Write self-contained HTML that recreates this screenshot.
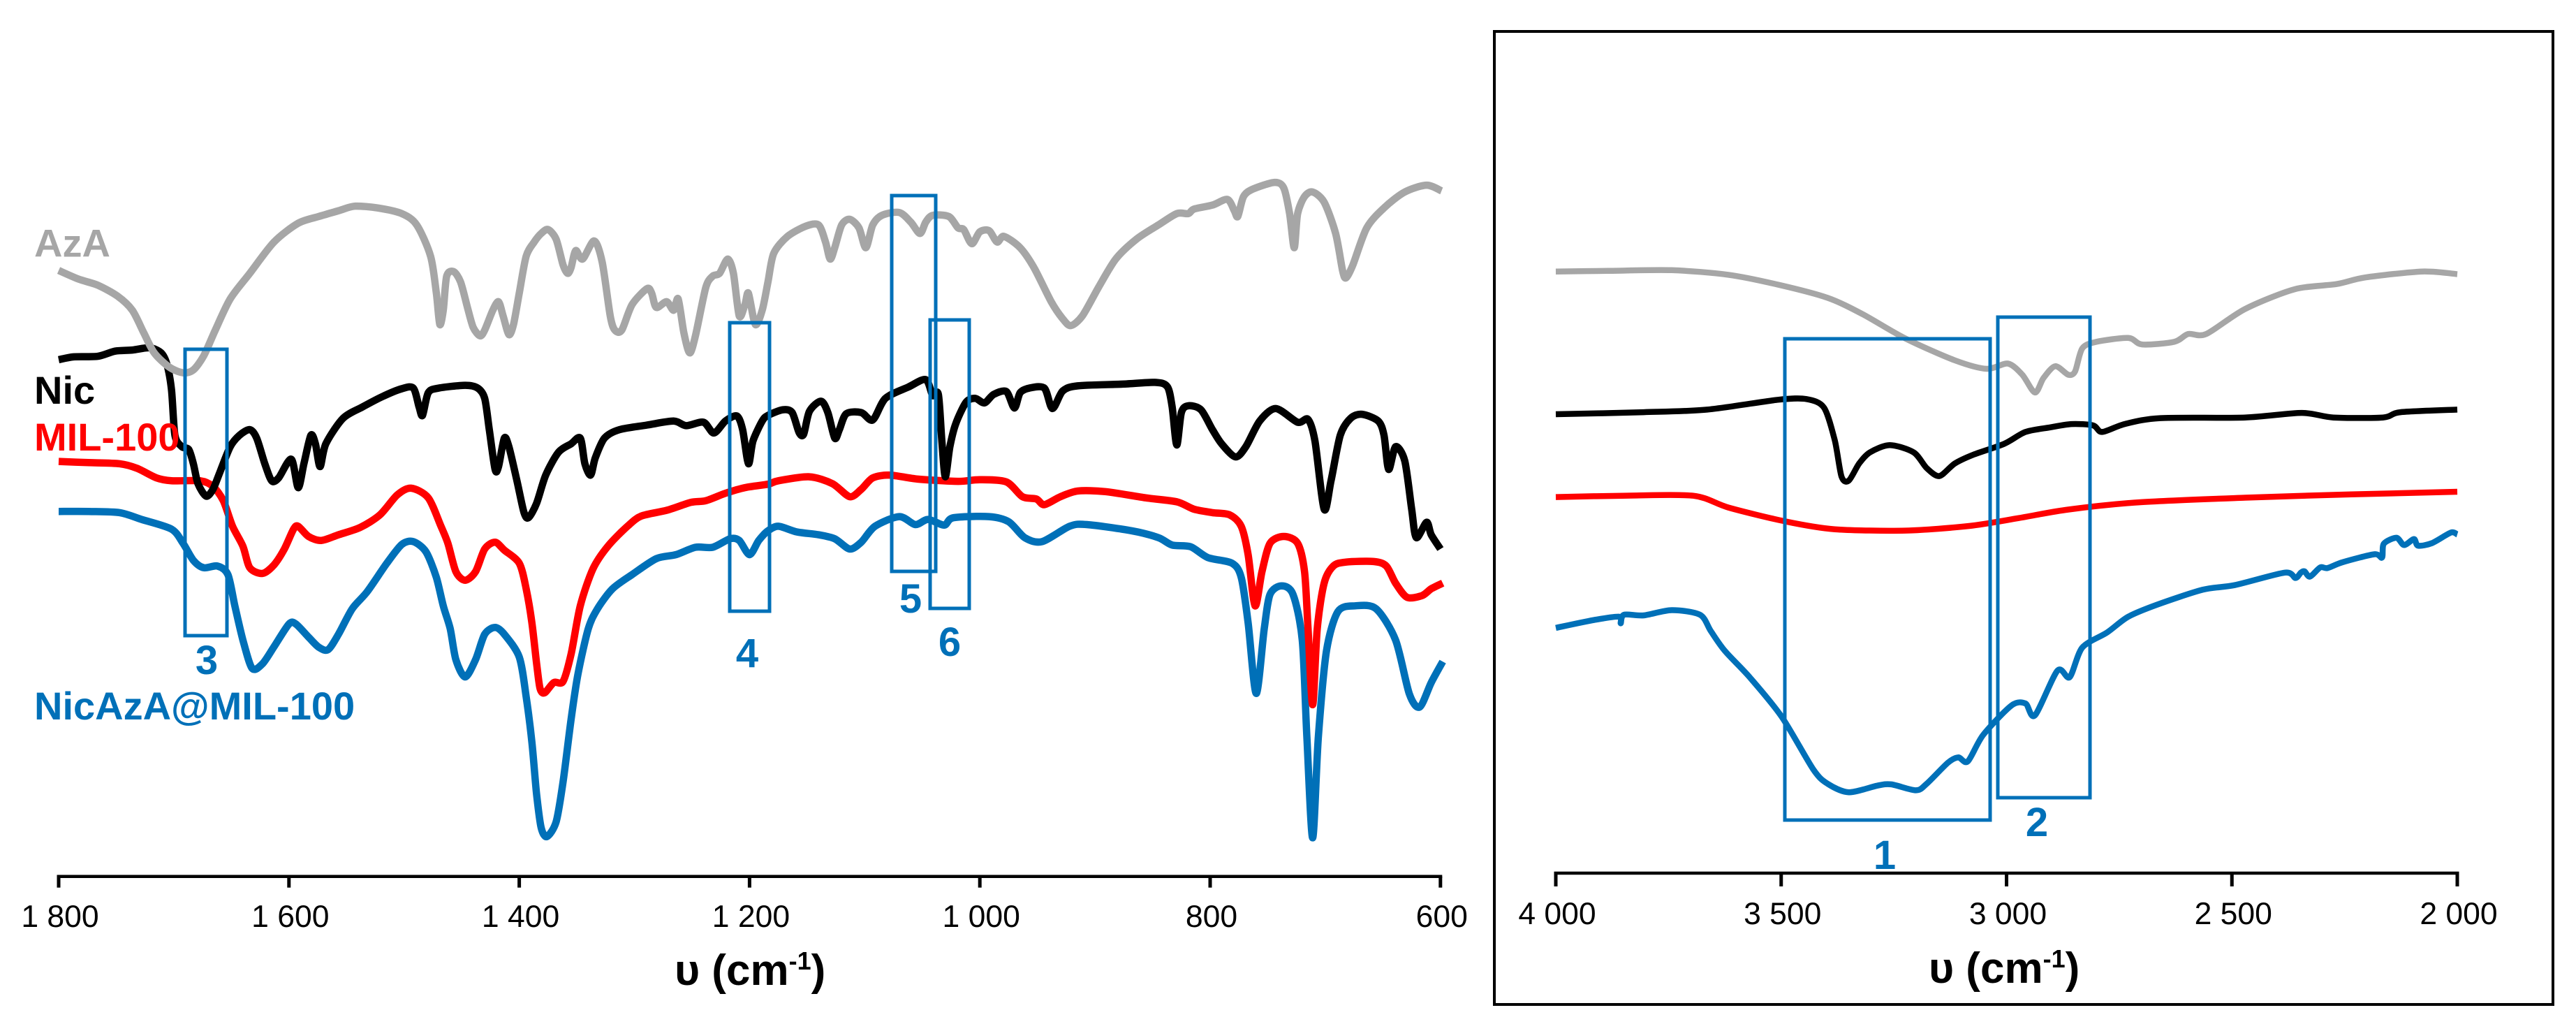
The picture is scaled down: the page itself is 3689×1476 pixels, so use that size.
<!DOCTYPE html>
<html lang="en">
<head>
<meta charset="utf-8">
<title>FTIR spectra of AzA, Nic, MIL-100 and NicAzA@MIL-100</title>
<style>
html,body{margin:0;padding:0;background:#fff;}
svg{display:block;}
text{font-family:"Liberation Sans",sans-serif;}
.tick{font-size:44.5px;fill:#000;text-anchor:middle;}
.title{font-size:62px;font-weight:bold;fill:#000;}
.lab{font-size:56px;font-weight:bold;}
.num{font-size:58px;font-weight:bold;fill:#0070b8;text-anchor:middle;}
.box{fill:none;stroke:#0070b8;stroke-width:5px;}
</style>
</head>
<body>
<svg id="figure" xmlns="http://www.w3.org/2000/svg" width="3689" height="1476" viewBox="0 0 3689 1476">
  <rect x="0" y="0" width="3689" height="1476" fill="#fff"/>
  <rect x="2140" y="45" width="1516" height="1393" fill="none" stroke="#000" stroke-width="4"/>
  <g id="left-marks"></g>
  <g id="right-marks"></g>
  <g id="left-axis"></g>
  <g id="right-axis"></g>

  <text class="lab" x="49" y="367.5" fill="#a6a6a6">AzA</text>
  <text class="lab" x="49" y="578" fill="#000">Nic</text>
  <text class="lab" x="49" y="645" fill="#ff0000">MIL-100</text>
  <text class="lab" x="49" y="1030" fill="#0070b8">NicAzA@MIL-100</text>

  <rect class="box" x="265" y="500" width="60" height="410"/>
  <rect class="box" x="1045" y="462" width="57" height="413"/>
  <rect class="box" x="1277" y="280" width="63" height="538"/>
  <rect class="box" x="1332" y="458" width="56" height="413"/>
  <rect class="box" x="2556" y="485" width="294" height="689"/>
  <rect class="box" x="2861" y="454" width="132" height="688"/>

  <text class="num" x="296" y="965">3</text>
  <text class="num" x="1070" y="955">4</text>
  <text class="num" x="1304" y="877">5</text>
  <text class="num" x="1360" y="939">6</text>
  <text class="num" x="2699" y="1244">1</text>
  <text class="num" x="2917" y="1197">2</text>

  <text class="title" x="966" y="1410">υ (cm<tspan font-size="36" dy="-22">-1</tspan><tspan dy="22">)</tspan></text>
  <text class="title" x="2762" y="1407">υ (cm<tspan font-size="36" dy="-22">-1</tspan><tspan dy="22">)</tspan></text>
</svg>
<script>
// ---------- Left panel: 1800–600 cm-1 (wavenumber, transmittance in arbitrary units) ----------
const leftTicks = [1800, 1600, 1400, 1200, 1000, 800, 600];
const leftTickLabels = ["1 800", "1 600", "1 400", "1 200", "1 000", "800", "600"];

const azaLeftW = [1800,1783,1766,1749,1736,1726,1717,1704,1692,1683,1674,1664,1651,1634,1613,1592,1574,1557,1543,1523,1502,1489,1477,1472,1469,1466,1463,1457,1451,1445,1440,1434,1430,1423,1418,1414,1409,1405,1400,1394,1387,1381,1375,1368,1362,1358,1355,1351,1345,1335,1328,1321,1317,1311,1302,1289,1285,1281,1272,1266,1262,1257,1252,1247,1238,1232,1226,1219,1214,1209,1204,1201,1195,1189,1184,1179,1167,1151,1140,1134,1130,1126,1120,1113,1105,1099,1093,1085,1070,1060,1052,1047,1041,1027,1019,1014,1007,1000,992,985,979,965,953,938,928,921,911,897,882,864,845,829,819,814,798,785,779,776,771,763,744,736,731,727,724,718,711,701,691,685,682,676,664,649,631,612,599];
const azaLeftT = [106.6,105.1,104,102.1,99.6,95.6,92.1,89.6,88.6,89.1,91.6,96.1,101.6,106.1,111.6,114.9,116.1,117.1,117.9,117.6,116.6,114.6,109.1,102.6,97.1,99.6,105.6,106.4,104.6,100.1,96.6,95.1,96.1,99.6,101.1,98.6,95.3,97.1,102.6,109.1,111.6,113.1,113.8,112.1,107.6,106.1,107.1,110.1,108.6,111.8,108.1,98.6,96.1,96.1,100.6,103.4,102.6,100.1,101.1,99.6,101.6,95.6,92.1,95.1,103.6,105.6,106.1,108.6,106.1,98.6,100.6,102.6,97.1,99.6,104.6,109.6,112.6,114.4,114.6,111.6,108.6,110.6,114.6,115.6,114.1,110.6,114.6,116.3,116.8,115.1,113.1,115.1,116.3,116.1,114.1,113.8,111.3,113.4,113.6,111.6,112.6,110.6,107.1,101.1,98.1,96.9,98.6,103.6,108.6,112.1,114.6,116.6,116.6,117.4,118.1,119.1,117.1,116.1,119.6,120.9,122.1,121.1,116.6,110.6,116.6,119.6,120.4,118.6,113.1,106.6,105.3,107.6,114.1,117.6,120.4,121.6,120.6];

const nicLeftW = [1800,1787,1766,1751,1736,1721,1711,1706,1702,1699,1693,1687,1683,1679,1672,1666,1660,1651,1643,1634,1628,1621,1615,1609,1598,1592,1587,1581,1577,1573,1568,1553,1536,1519,1502,1492,1487,1484,1479,1470,1447,1436,1430,1426,1421,1418,1413,1409,1402,1396,1392,1385,1377,1366,1355,1347,1343,1338,1334,1326,1313,1289,1266,1255,1240,1231,1221,1211,1206,1201,1197,1189,1184,1171,1163,1157,1153,1148,1138,1132,1126,1122,1116,1103,1093,1082,1062,1047,1041,1036,1033,1030,1026,1021,1012,1004,996,988,977,970,965,957,944,937,928,915,876,847,837,833,829,825,819,808,798,790,778,769,757,743,724,715,709,701,695,687,678,668,654,649,645,639,631,625,621,612,608,600];
const nicLeftT = [90.9,91.4,91.5,92.4,92.6,93,92.1,90.1,85.6,77.6,75.6,75.1,72.6,69.1,66.9,68.1,71.1,75.6,77.6,78.6,77.1,72.6,69.6,70.1,73.4,68.4,72.6,77.6,76.1,72.1,76.1,80.6,82.6,84.4,85.8,85.9,82.6,81.1,85.1,85.9,86.4,85.9,84.1,78.6,71.6,72.1,77.1,75.6,69.6,64.1,63.1,65.6,70.6,74.6,76.1,77.1,72.6,70.6,73.6,77.1,78.6,79.4,80.1,79.3,79.9,78,80.1,81,78.6,72.6,76.6,80.1,81.1,82.1,81.6,78.1,77.8,81.8,83.6,81.6,77.1,78.6,81.4,81.6,80.3,84.1,86.1,87.4,84.6,84.8,76.6,70.3,75.6,79.6,83.4,84.1,83.3,84.8,85.3,82.4,85.1,85.9,85.9,82.3,85.4,86.3,86.6,86.9,86.1,82.6,75.9,81.6,82.8,82.1,78.6,76.1,73.8,75.6,80.1,82.3,79.9,80.4,76.6,64.6,69.6,77.6,80.6,81.3,80.1,77.6,71.6,75.6,73.1,64.6,59.6,62.3,60.1,57.6];

const milLeftW = [1800,1774,1747,1732,1715,1702,1677,1666,1657,1649,1640,1634,1623,1613,1604,1596,1592,1583,1572,1557,1538,1521,1506,1494,1479,1468,1462,1455,1447,1438,1430,1421,1413,1400,1394,1389,1385,1382,1378,1370,1362,1355,1347,1336,1323,1306,1294,1272,1251,1238,1221,1204,1184,1175,1148,1128,1113,1103,1093,1078,1054,1019,1000,977,963,951,944,930,915,891,856,829,814,798,783,773,767,761,755,748,736,724,718,715,711,707,701,693,682,658,647,639,629,616,608,598];
const milLeftT = [73,72.8,72.6,71.8,70.1,69.6,69.6,68.6,66.1,61.6,58.1,54.3,53.3,54.8,57.6,61.1,61.6,59.8,59.1,60.1,61.4,63.6,67.1,68.3,66.6,61.6,58.6,53.6,52.1,53.6,57.6,58.8,57.4,55.1,50.6,44.6,37.6,33.1,32.3,34.1,34.3,39.1,47.6,54.1,58.1,61.6,63.4,64.4,65.8,66.1,67.4,68.4,69,69.6,70.3,69.1,66.8,68.1,70.1,70.6,69.9,69.5,69.8,69.4,66.8,66.4,65.4,66.8,67.8,67.7,66.6,65.9,64.6,64,63.6,61.6,56.6,47.6,53.6,58.6,59.8,58.6,53.6,43.6,30.2,43.6,51.6,54.6,55.3,55.4,54.6,51.6,49.1,49.4,50.6,51.6];

const nicazaLeftW = [1800,1774,1747,1728,1702,1692,1683,1674,1662,1653,1647,1640,1632,1623,1613,1600,1594,1583,1574,1566,1557,1545,1532,1515,1502,1492,1481,1472,1466,1460,1455,1447,1438,1430,1421,1413,1400,1394,1389,1385,1381,1376,1368,1362,1355,1349,1340,1332,1319,1302,1281,1264,1247,1232,1217,1209,1200,1192,1184,1175,1159,1140,1126,1113,1103,1091,1070,1056,1045,1031,1023,992,975,961,946,922,907,868,845,833,817,802,781,773,767,760,753,748,738,728,720,716,711,706,699,689,674,656,639,627,618,608,598];
const nicazaLeftT = [64.2,64.2,64,62.8,61.1,58.6,55.6,54.3,54.6,53.1,47.6,41.6,36.6,37.4,40.4,44.4,44.4,42.1,40.3,39.9,42.6,47.1,50.1,55.1,58.4,58.9,57.1,52.6,47.6,43.6,38.1,35.1,38.1,42.6,43.8,42.6,38.6,31.6,23.6,14.6,8.6,7,9.6,16.6,27.6,35.6,43.6,47.1,50.6,53.1,55.9,56.6,57.9,57.9,59.4,59.1,56.6,59.1,60.8,61.6,60.6,60.1,59.4,57.6,58.8,61.6,63.3,61.9,62.8,61.8,63.1,63.3,62.4,59.6,58.9,61.6,61.9,60.8,59.6,58.3,58,56.1,55.1,52.6,44.6,32.2,43.6,49.6,51.1,49.6,41.6,24.6,6.8,24.6,39.6,46.6,47.6,47.1,41.6,32.1,29.8,34.1,37.8];

// ---------- Right panel: 4000–2000 cm-1 ----------
const rightTicks = [4000, 3500, 3000, 2500, 2000];
const rightTickLabels = ["4 000", "3 500", "3 000", "2 500", "2 000"];

const azaRightW = [4000,3884,3743,3617,3507,3397,3319,3224,3115,3044,2997,2965,2937,2918,2892,2863,2848,2832,2801,2730,2699,2628,2597,2557,2471,2361,2267,2204,2078,2000];
const azaRightT = [91.5,91.6,91.7,91,89.5,87.5,85,81.3,78,76.7,77.5,75.8,73.1,75.3,77.1,75.8,76.3,79.8,80.8,81.4,80.4,80.8,82,82,85.8,88.8,89.6,90.6,91.5,91.1];

const nicRightW = [4000,3805,3664,3507,3444,3405,3381,3366,3350,3327,3303,3259,3206,3177,3149,3115,3075,3005,2958,2903,2856,2808,2788,2738,2659,2471,2345,2275,2165,2126,2000];
const nicRightT = [69.8,70.1,70.5,72,72.1,70.8,65.8,60.3,59.7,62.3,64,65.1,64,61.6,60.4,62.3,63.6,65.3,67.1,67.8,68.3,68.1,67.1,68.3,69.2,69.3,70,69.3,69.3,70.1,70.5];

const milRightW = [4000,3852,3695,3617,3491,3381,3224,3083,2973,2863,2706,2471,2235,2000];
const milRightT = [57.2,57.4,57.4,55.6,53.5,52.3,52.1,52.8,54,55.3,56.4,57.1,57.6,58];

const nicazaRightW = [4000,3915,3860,3856,3849,3805,3743,3680,3656,3625,3570,3499,3429,3397,3350,3287,3256,3201,3177,3130,3107,3086,3052,2989,2958,2937,2887,2860,2832,2777,2730,2667,2565,2494,2383,2359,2347,2339,2327,2304,2288,2254,2184,2167,2163,2135,2118,2096,2087,2056,2014,2000];
const nicazaRightT = [37.3,38.5,39,38,39.3,39.2,40,39.3,36.8,33.8,29.8,23.8,15.8,13.6,12.3,13.3,13.5,12.6,13.6,16.8,17.6,17,21,25.5,25.8,24,30.8,29.8,34.3,36.6,39,40.8,43.1,43.8,45.7,44.9,45.7,45.9,45.1,46.5,46.4,47.3,48.5,48,50.1,51,49.9,50.8,49.8,50.2,51.8,51.5];

// ---------- Axis functions ----------
const SVGNS = 'http://www.w3.org/2000/svg';
function leftX(w) { return 84 + (1800 - w) * 1.649; }
function leftY(t) { return 1254.7 - t * 8.138; }
function rightX(w) { return 2228 + (4000 - w) * 0.6455; }
function rightY(t) { return 1250 - t * 9.413; }

function smoothPath(ws, ts, fx, fy) {
  const p = ws.map(function (w, i) { return [fx(w), fy(ts[i])]; });
  let d = 'M' + p[0][0].toFixed(1) + ' ' + p[0][1].toFixed(1);
  for (let i = 0; i < p.length - 1; i++) {
    const a = p[Math.max(i - 1, 0)], b = p[i], c = p[i + 1], e = p[Math.min(i + 2, p.length - 1)];
    const k = 0.14;
    d += 'C' + (b[0] + (c[0] - a[0]) * k).toFixed(1) + ' ' + (b[1] + (c[1] - a[1]) * k).toFixed(1) + ' ' +
         (c[0] - (e[0] - b[0]) * k).toFixed(1) + ' ' + (c[1] - (e[1] - b[1]) * k).toFixed(1) + ' ' +
         c[0].toFixed(1) + ' ' + c[1].toFixed(1);
  }
  return d;
}

function drawSeries(parentId, name, ws, ts, fx, fy, color, width) {
  const el = document.createElementNS(SVGNS, 'path');
  
  
  el.setAttribute('d', smoothPath(ws, ts, fx, fy));
  el.setAttribute('fill', 'none');
  el.setAttribute('stroke', color);
  el.setAttribute('stroke-width', width);
  el.setAttribute('stroke-linejoin', 'round');
  el.setAttribute('stroke-linecap', 'butt');
  document.getElementById(parentId).appendChild(el);
}

function drawAxis(parentId, ticks, labels, fx, y, tickLen, labelY) {
  const g = document.getElementById(parentId);
  const line = document.createElementNS(SVGNS, 'line');
  
  
  line.setAttribute('x1', fx(ticks[0]) - 2.5);
  line.setAttribute('x2', fx(ticks[ticks.length - 1]) + 2.5);
  line.setAttribute('y1', y);
  line.setAttribute('y2', y);
  line.setAttribute('stroke', '#000');
  line.setAttribute('stroke-width', 4.5);
  g.appendChild(line);
  ticks.forEach(function (w, i) {
    const t = document.createElementNS(SVGNS, 'line');
    
    
    t.setAttribute('x1', fx(w));
    t.setAttribute('x2', fx(w));
    t.setAttribute('y1', y);
    t.setAttribute('y2', y + tickLen);
    t.setAttribute('stroke', '#000');
    t.setAttribute('stroke-width', 5);
    g.appendChild(t);
    const lab = document.createElementNS(SVGNS, 'text');
    
    
    lab.setAttribute('class', 'tick');
    lab.setAttribute('x', fx(w) + 2);
    lab.setAttribute('y', labelY);
    lab.textContent = labels[i];
    g.appendChild(lab);
  });
}

drawSeries('left-marks', 'nicaza-mil-100-series-low-range', nicazaLeftW, nicazaLeftT, leftX, leftY, '#0070b8', 10.5);
drawSeries('left-marks', 'mil-100-series-low-range', milLeftW, milLeftT, leftX, leftY, '#ff0000', 10.5);
drawSeries('left-marks', 'nic-series-low-range', nicLeftW, nicLeftT, leftX, leftY, '#000000', 10.5);
drawSeries('left-marks', 'aza-series-low-range', azaLeftW, azaLeftT, leftX, leftY, '#a6a6a6', 10.5);

drawSeries('right-marks', 'nicaza-mil-100-series-high-range', nicazaRightW, nicazaRightT, rightX, rightY, '#0070b8', 8.5);
drawSeries('right-marks', 'mil-100-series-high-range', milRightW, milRightT, rightX, rightY, '#ff0000', 8.5);
drawSeries('right-marks', 'nic-series-high-range', nicRightW, nicRightT, rightX, rightY, '#000000', 8.5);
drawSeries('right-marks', 'aza-series-high-range', azaRightW, azaRightT, rightX, rightY, '#a6a6a6', 8.5);

drawAxis('left-axis', leftTicks, leftTickLabels, leftX, 1254.7, 16, 1327);
drawAxis('right-axis', rightTicks, rightTickLabels, rightX, 1250, 19, 1323);
</script>
</body>
</html>
